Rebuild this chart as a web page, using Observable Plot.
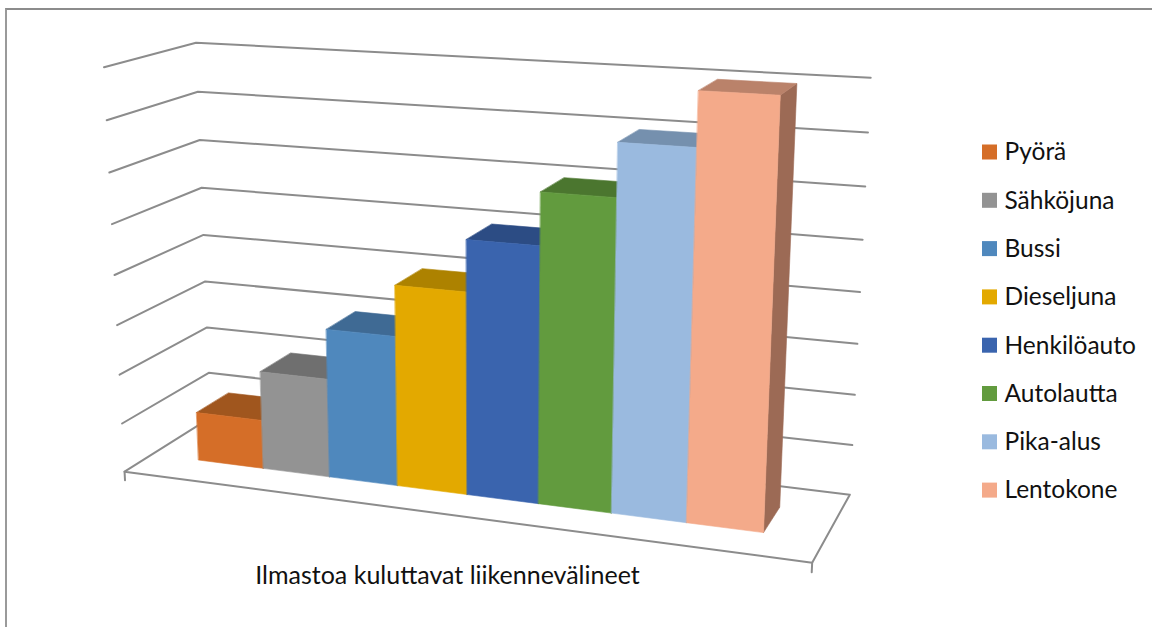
<!DOCTYPE html>
<html lang="fi">
<head>
<meta charset="utf-8">
<script src="https://cdn.jsdelivr.net/npm/d3@7"></script>
<script src="https://cdn.jsdelivr.net/npm/@observablehq/plot@0.6"></script>
<style>
html,body{margin:0;padding:0;background:#fff;width:1152px;height:627px;overflow:hidden}
#frame{position:absolute;left:5px;top:8px;right:0;bottom:0;border-top:2px solid #8c8c8c;border-left:2px solid #9a9a9a}
#chart{position:absolute;left:0;top:0}
</style>
</head>
<body>
<div id="frame"></div>
<div id="chart"></div>
<script>
// Chart data
const categories = ["Pyörä","Sähköjuna","Bussi","Dieseljuna","Henkilöauto","Autolautta","Pika-alus","Lentokone"];
const values = [1,2,3,4,5,6,7,8];
const frontColors = ["#D56E28","#939393","#4F88BD","#E3A900","#3A64AE","#629B3E","#9ABADF","#F4AA8A"];
const topColors   = ["#A0561E","#6F6F6F","#3F6A94","#AD8200","#2C4C84","#4B762F","#7590AE","#BA826A"];
const sideColors  = ["#8F4A1A","#626262","#365C80","#957000","#263F6F","#406528","#647C96","#9C6A55"];
const axisTitle = "Ilmastoa kuluttavat liikennevälineet";
const levels = [0,1,2,3,4,5,6,7,8];

// 3D camera, calibrated on the corners of the chart box: [x, value, depth, screenX, screenY]
const calibration = [
  [0,0,0,124,471.5],[1,0,0,811.7,562],[1,0,0,811.7,562],[1,0,1,849,494.3],[0,0,1,210,417],
  [0,4,0,114,274],[0,4,1,203,234],[1,4,1,860,292],
  [0,8,0,103.5,67],[0,8,1,195.5,42.5],[1,8,1,870,77],
  [0,1,0,121.7,423.3],[0,1,1,208.3,372.3],[1,1,1,851.7,444.7]
];
function fitCamera(pts){
  const A=[],b=[];
  for(const [X,Y,Z,u0,v0] of pts){
    const u=u0/1000,v=v0/1000,y=Y/8;
    A.push([X,y,Z,1,0,0,0,0,-u*X,-u*y,-u*Z]);b.push(u);
    A.push([0,0,0,0,X,y,Z,1,-v*X,-v*y,-v*Z]);b.push(v);
  }
  const n=11,M=Array.from({length:n},()=>new Array(n+1).fill(0));
  A.forEach((r,k)=>{for(let i=0;i<n;i++){for(let j=0;j<n;j++)M[i][j]+=r[i]*r[j];M[i][n]+=r[i]*b[k];}});
  for(let c=0;c<n;c++){
    let p=c;for(let r=c+1;r<n;r++)if(Math.abs(M[r][c])>Math.abs(M[p][c]))p=r;
    [M[c],M[p]]=[M[p],M[c]];
    for(let r=0;r<n;r++){if(r===c)continue;const f=M[r][c]/M[c][c];for(let j=c;j<=n;j++)M[r][j]-=f*M[c][j];}
  }
  return M.map((r,i)=>r[n]/r[i]);
}
const cam=fitCamera(calibration);
const project=([X,Y,Z])=>{
  const y=Y/8,w=cam[8]*X+cam[9]*y+cam[10]*Z+1;
  return [1000*(cam[0]*X+cam[1]*y+cam[2]*Z+cam[3])/w,1000*(cam[4]*X+cam[5]*y+cam[6]*Z+cam[7])/w];
};

// Bars occupy this part of the floor
const barX0=0.0765, barX1=0.9185, barZ0=0.308, barZ1=0.69;
const step=(barX1-barX0)/categories.length;

const px=d=>project(d)[0], py=d=>project(d)[1];
const poly=(pts,opts)=>Plot.line(pts,{x:px,y:py,curve:"linear-closed",...opts});
const path=(pts,opts)=>Plot.line(pts,{x:px,y:py,stroke:"#8c8c8c",strokeWidth:2,...opts});

const marks=[];
// Floor
marks.push(poly([[0,0,0],[1,0,0],[1,0,1],[0,0,1]],{stroke:"#8c8c8c",strokeWidth:2,fill:"#fff"}));
// Walls
for(const l of levels.slice(1)) marks.push(path([[0,l,0],[0,l,1],[1,l,1]]));
// Corner ticks
marks.push(path([[0,0,0],[0,-0.18,0]]),path([[1,0,0],[1,-0.18,0]]));
// Bars, painted left to right
categories.forEach((c,i)=>{
  const a=barX0+i*step,b=a+step,v=values[i];
  const paint=(pts,col)=>poly(pts,{fill:col,stroke:col,strokeWidth:0.6});
  marks.push(paint([[b,0,barZ0],[b,0,barZ1],[b,v,barZ1],[b,v,barZ0]],sideColors[i]));
  marks.push(paint([[a,v,barZ0],[b,v,barZ0],[b,v,barZ1],[a,v,barZ1]],topColors[i]));
  marks.push(paint([[a,0,barZ0],[b,0,barZ0],[b,v,barZ0],[a,v,barZ0]],frontColors[i]));
});
// Axis title
const fontFamily="Lato, 'Open Sans', sans-serif";
marks.push(Plot.text([axisTitle],{x:447,y:575,text:d=>d,fontSize:25,fontFamily,fill:"#111",textAnchor:"middle"}));
// Legend
const legendY=i=>152+i*48.3;
marks.push(Plot.rect(categories,{x1:982,x2:997,y1:(d,i)=>legendY(i)-7.5,y2:(d,i)=>legendY(i)+7.5,fill:(d,i)=>frontColors[i]}));
marks.push(Plot.text(categories,{x:1004,y:(d,i)=>legendY(i),text:d=>d,fontSize:24.5,fontFamily,fill:"#111",textAnchor:"start"}));

const chart=Plot.plot({
  width:1152,height:627,margin:0,
  style:{background:"transparent",overflow:"visible"},
  x:{domain:[0,1152],range:[0,1152],axis:null},
  y:{domain:[0,627],range:[0,627],axis:null},
  color:{type:"identity"},
  marks
});
document.getElementById("chart").appendChild(chart);
</script>
</body>
</html>
